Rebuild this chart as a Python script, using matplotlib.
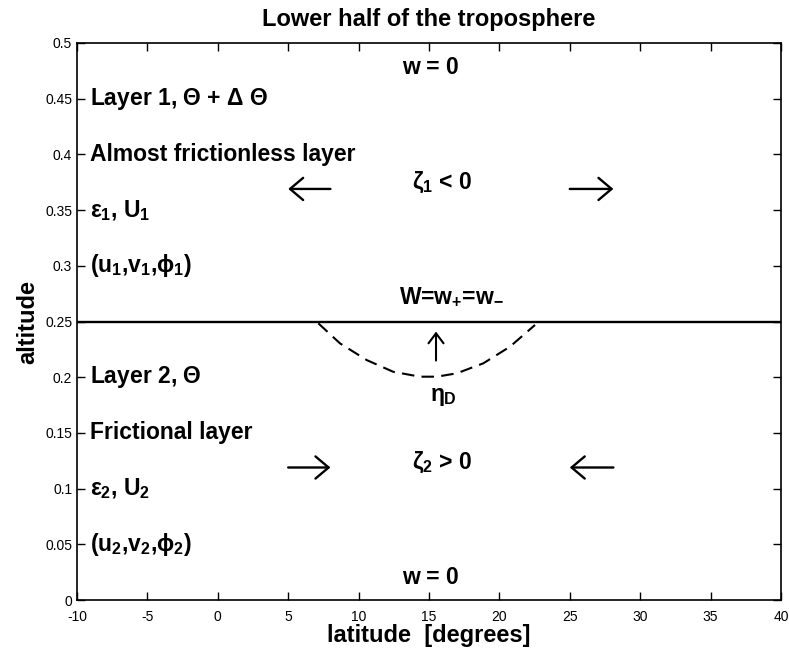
import matplotlib
matplotlib.use('Agg')
import matplotlib.pyplot as plt

plt.rcParams['font.family'] = ['Liberation Sans', 'DejaVu Sans']
plt.rcParams['mathtext.fontset'] = 'custom'
plt.rcParams['mathtext.rm'] = 'Liberation Sans:bold'
plt.rcParams['mathtext.it'] = 'Liberation Sans:bold'
plt.rcParams['mathtext.bf'] = 'Liberation Sans:bold'
plt.rcParams['axes.unicode_minus'] = False

# interface between the two layers
interface_x = [-10, 40]
interface_y = [0.25, 0.25]

# dashed displaced interface (eta_D)
eta_x = [7.14, 8.68, 10.58, 12.46, 14.36, 15.55, 16.97, 18.86, 20.75, 22.53]
eta_y = [0.2484, 0.2304, 0.2154, 0.2049, 0.2005, 0.2005, 0.2035, 0.2125, 0.2274, 0.2469]

# left column labels: (y, text)
left_y = [0.45, 0.40, 0.35, 0.30, 0.20, 0.15, 0.10, 0.05]
left_text = [r'Layer 1, $\Theta$ + $\Delta$ $\Theta$',
             'Almost frictionless layer',
             r'$\varepsilon_{1}$, U$_{1}$',
             r'(u$_{1}$,v$_{1}$,$\phi_{1}$)',
             r'Layer 2, $\Theta$',
             'Frictional layer',
             r'$\varepsilon_{2}$, U$_{2}$',
             r'(u$_{2}$,v$_{2}$,$\phi_{2}$)']

# arrows: (x_tail, x_head, y)
arrows = [(8.0, 5.0, 0.369), (25.0, 28.1, 0.369),
          (5.0, 8.0, 0.119), (28.1, 25.0, 0.119)]

fig = plt.figure(figsize=(7.89, 6.58), dpi=100)
ax = fig.add_axes([0.0976, 0.088, 0.8922, 0.8467])

ax.plot(interface_x, interface_y, color='black', linewidth=1.7)
ax.plot(eta_x, eta_y, color='black', linewidth=1.5, dashes=(6, 3.5))

fs = 16.5
for y, t in zip(left_y, left_text):
    ax.text(-9.1, y, t, fontsize=fs, fontweight='bold', va='center', ha='left')

ax.text(15.1, 0.478, 'w = 0', fontsize=fs, fontweight='bold', ha='center', va='center')
ax.text(15.1, 0.020, 'w = 0', fontsize=fs, fontweight='bold', ha='center', va='center')
ax.text(15.9, 0.375, r'$\zeta_{1}$ < 0', fontsize=fs, fontweight='bold', ha='center', va='center')
ax.text(15.9, 0.124, r'$\zeta_{2}$ > 0', fontsize=fs, fontweight='bold', ha='center', va='center')
ax.text(16.6, 0.272, r'W=w$_{+}$=w$_{-}$', fontsize=fs, fontweight='bold', ha='center', va='center')
ax.text(16.0, 0.183, r'$\eta_{D}$', fontsize=fs, fontweight='bold', ha='center', va='center')

for x0, x1, y in arrows:
    ax.annotate('', xy=(x1, y), xytext=(x0, y),
                arrowprops=dict(arrowstyle='->, head_length=0.45, head_width=0.38',
                                color='black', lw=1.7,
                                mutation_scale=21, shrinkA=0, shrinkB=0))
ax.annotate('', xy=(15.5, 0.241), xytext=(15.5, 0.215),
            arrowprops=dict(arrowstyle='->, head_length=0.4, head_width=0.3',
                            color='black', lw=1.5,
                            mutation_scale=18, shrinkA=0, shrinkB=0))

ax.set_xlim(-10, 40)
ax.set_ylim(0, 0.5)
ax.set_xticks(range(-10, 41, 5))
ax.set_yticks([0, 0.05, 0.1, 0.15, 0.2, 0.25, 0.3, 0.35, 0.4, 0.45, 0.5])
ax.set_yticklabels(['0', '0.05', '0.1', '0.15', '0.2', '0.25', '0.3', '0.35', '0.4', '0.45', '0.5'])
ax.tick_params(direction='in', top=True, right=True, labelsize=10, length=6, width=1)
ax.tick_params(axis='x', pad=7)
for s in ax.spines.values():
    s.set_linewidth(1.2)

ax.set_title('Lower half of the troposphere', fontsize=17, fontweight='bold', pad=12)
ax.set_xlabel('latitude  [degrees]', fontsize=17, fontweight='bold', labelpad=0)
ax.set_ylabel('altitude', fontsize=17, fontweight='bold', labelpad=4)

fig.savefig('out.png', dpi=100)
